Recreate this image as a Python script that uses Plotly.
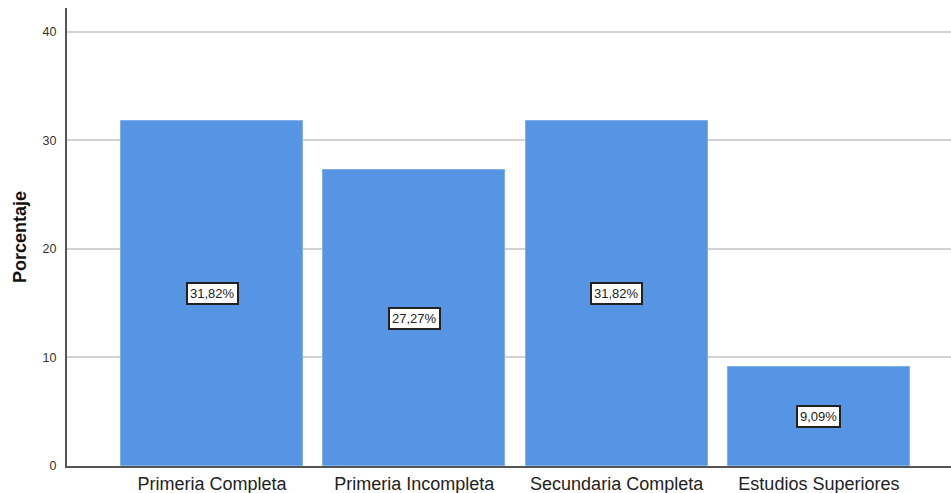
import plotly.graph_objects as go

categories = ["Primeria Completa", "Primeria Incompleta", "Secundaria Completa", "Estudios Superiores"]
values = [31.82, 27.27, 31.82, 9.09]
labels = ["31,82%", "27,27%", "31,82%", "9,09%"]
y_ticks = [0, 10, 20, 30, 40]

fig = go.Figure()
fig.add_trace(go.Bar(
    x=list(range(len(categories))), y=values, width=0.9,
    marker=dict(color="#5595E3", line=dict(color="#7FB0EC", width=1)),
    hoverinfo="skip",
))

for i, (v, lab) in enumerate(zip(values, labels)):
    fig.add_annotation(
        x=i, y=v / 2, text=lab, showarrow=False,
        font=dict(family="Liberation Sans, Arial", size=13, color="#222"),
        bgcolor="white", bordercolor="#222", borderwidth=2, borderpad=2,
    )

fig.update_layout(
    width=951, height=493,
    margin=dict(l=67, r=0, t=8, b=27, autoexpand=False),
    paper_bgcolor="white", plot_bgcolor="white",
    showlegend=False,
    font=dict(family="Liberation Sans, Arial", color="#222"),
    xaxis=dict(
        range=[-0.717, 3.653], automargin=False,
        tickmode="array", tickvals=list(range(len(categories))), ticktext=categories,
        tickfont=dict(size=18, color="#222"),
        showgrid=False, zeroline=False,
        showline=True, linecolor="#555", linewidth=2,
        ticks="", ticklabelstandoff=0,
    ),
    yaxis=dict(
        range=[0, 42.2], automargin=False,
        tickmode="array", tickvals=y_ticks, ticktext=[str(t) for t in y_ticks],
        tickfont=dict(size=12.5, color="#333"),
        showgrid=True, gridcolor="#D2D2D2", gridwidth=2,
        zeroline=False,
        showline=True, linecolor="#555", linewidth=2,
        ticks="", ticklabelstandoff=6,
        title=dict(text="<b>Porcentaje</b>", font=dict(size=18, color="#111"), standoff=11),
    ),
    bargap=0,
)

fig.write_html(
    "out.html",
    config={"displayModeBar": False},
    post_script="document.body.style.margin='0';document.body.style.overflow='hidden';document.documentElement.style.overflow='hidden';",
)
